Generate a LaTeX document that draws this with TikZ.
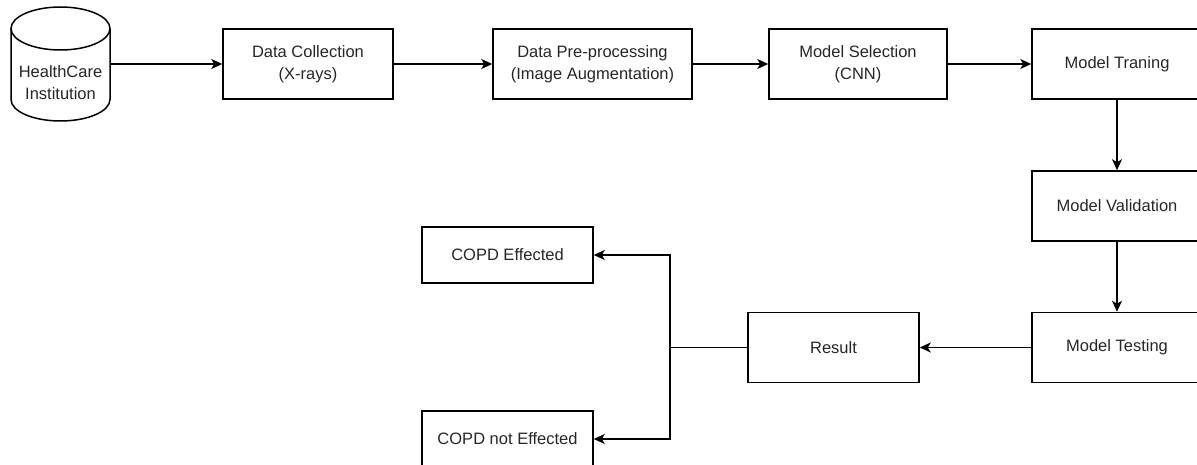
\documentclass[tikz,border=0pt]{standalone}
\usepackage{fontspec}
\setmainfont{Liberation Sans}
\usetikzlibrary{arrows.meta}
\begin{document}
\begin{tikzpicture}[x=1pt,y=-1pt,
  txt/.style={font=\fontsize{16.5}{21.5}\selectfont, text=black!85, align=center},
  box/.style={txt, draw, line width=1.5pt, minimum width=170pt, minimum height=70pt, inner sep=0pt},
  smallbox/.style={box, minimum width=171pt, minimum height=56pt},
  conn/.style={line width=1.5pt, -{Stealth[length=11pt,width=10pt,inset=3pt]}},
  plain/.style={line width=1.5pt}]
\useasboundingbox (0,0) rectangle (1197,465);
% cylinder
\draw[plain, fill=white] (11,28.5) -- (11,99.5) arc[start angle=180, end angle=0, x radius=49.5, y radius=21.5] -- (110,28.5);
\draw[plain] (60.5,28.5) ellipse[x radius=49.5, y radius=21.5];
\node[minimum width=99pt, minimum height=114pt, inner sep=0pt] (hc) at (60.5,64) {};
\node[txt] (hctext) at (60.5,82.5) {HealthCare\\Institution};
% boxes
\node[box] (dc) at (308,64) {Data Collection\\(X-rays)};
\node[box, minimum width=199pt] (dp) at (592.5,64) {Data Pre-processing\\(Image Augmentation)};
\node[box, minimum width=178pt] (ms) at (858,64) {Model Selection\\(CNN)};
\node[box] (mt) at (1117,64) {Model Traning};
\node[box] (mv) at (1117,206) {Model Validation};
\node[box] (mte) at (1117,347.5) {Model Testing};
\node[box, minimum width=171pt] (res) at (833.5,347.5) {Result};
\node[smallbox] (ce) at (507.5,255) {COPD Effected};
\node[smallbox] (cne) at (507.5,439) {COPD not Effected};
\coordinate (j) at (670,347.5);
% connectors
\draw[conn] (hc.east) -- (dc.west);
\draw[conn] (dc.east) -- (dp.west);
\draw[conn] (dp.east) -- (ms.west);
\draw[conn] (ms.east) -- (mt.west);
\draw[conn] (mt.south) -- (mv.north);
\draw[conn] (mv.south) -- (mte.north);
\draw[conn] (mte.west) -- (res.east);
\draw[plain] (res.west) -- (j);
\draw[conn] (j) |- (ce.east);
\draw[conn] (j) |- (cne.east);
\end{tikzpicture}
\end{document}
